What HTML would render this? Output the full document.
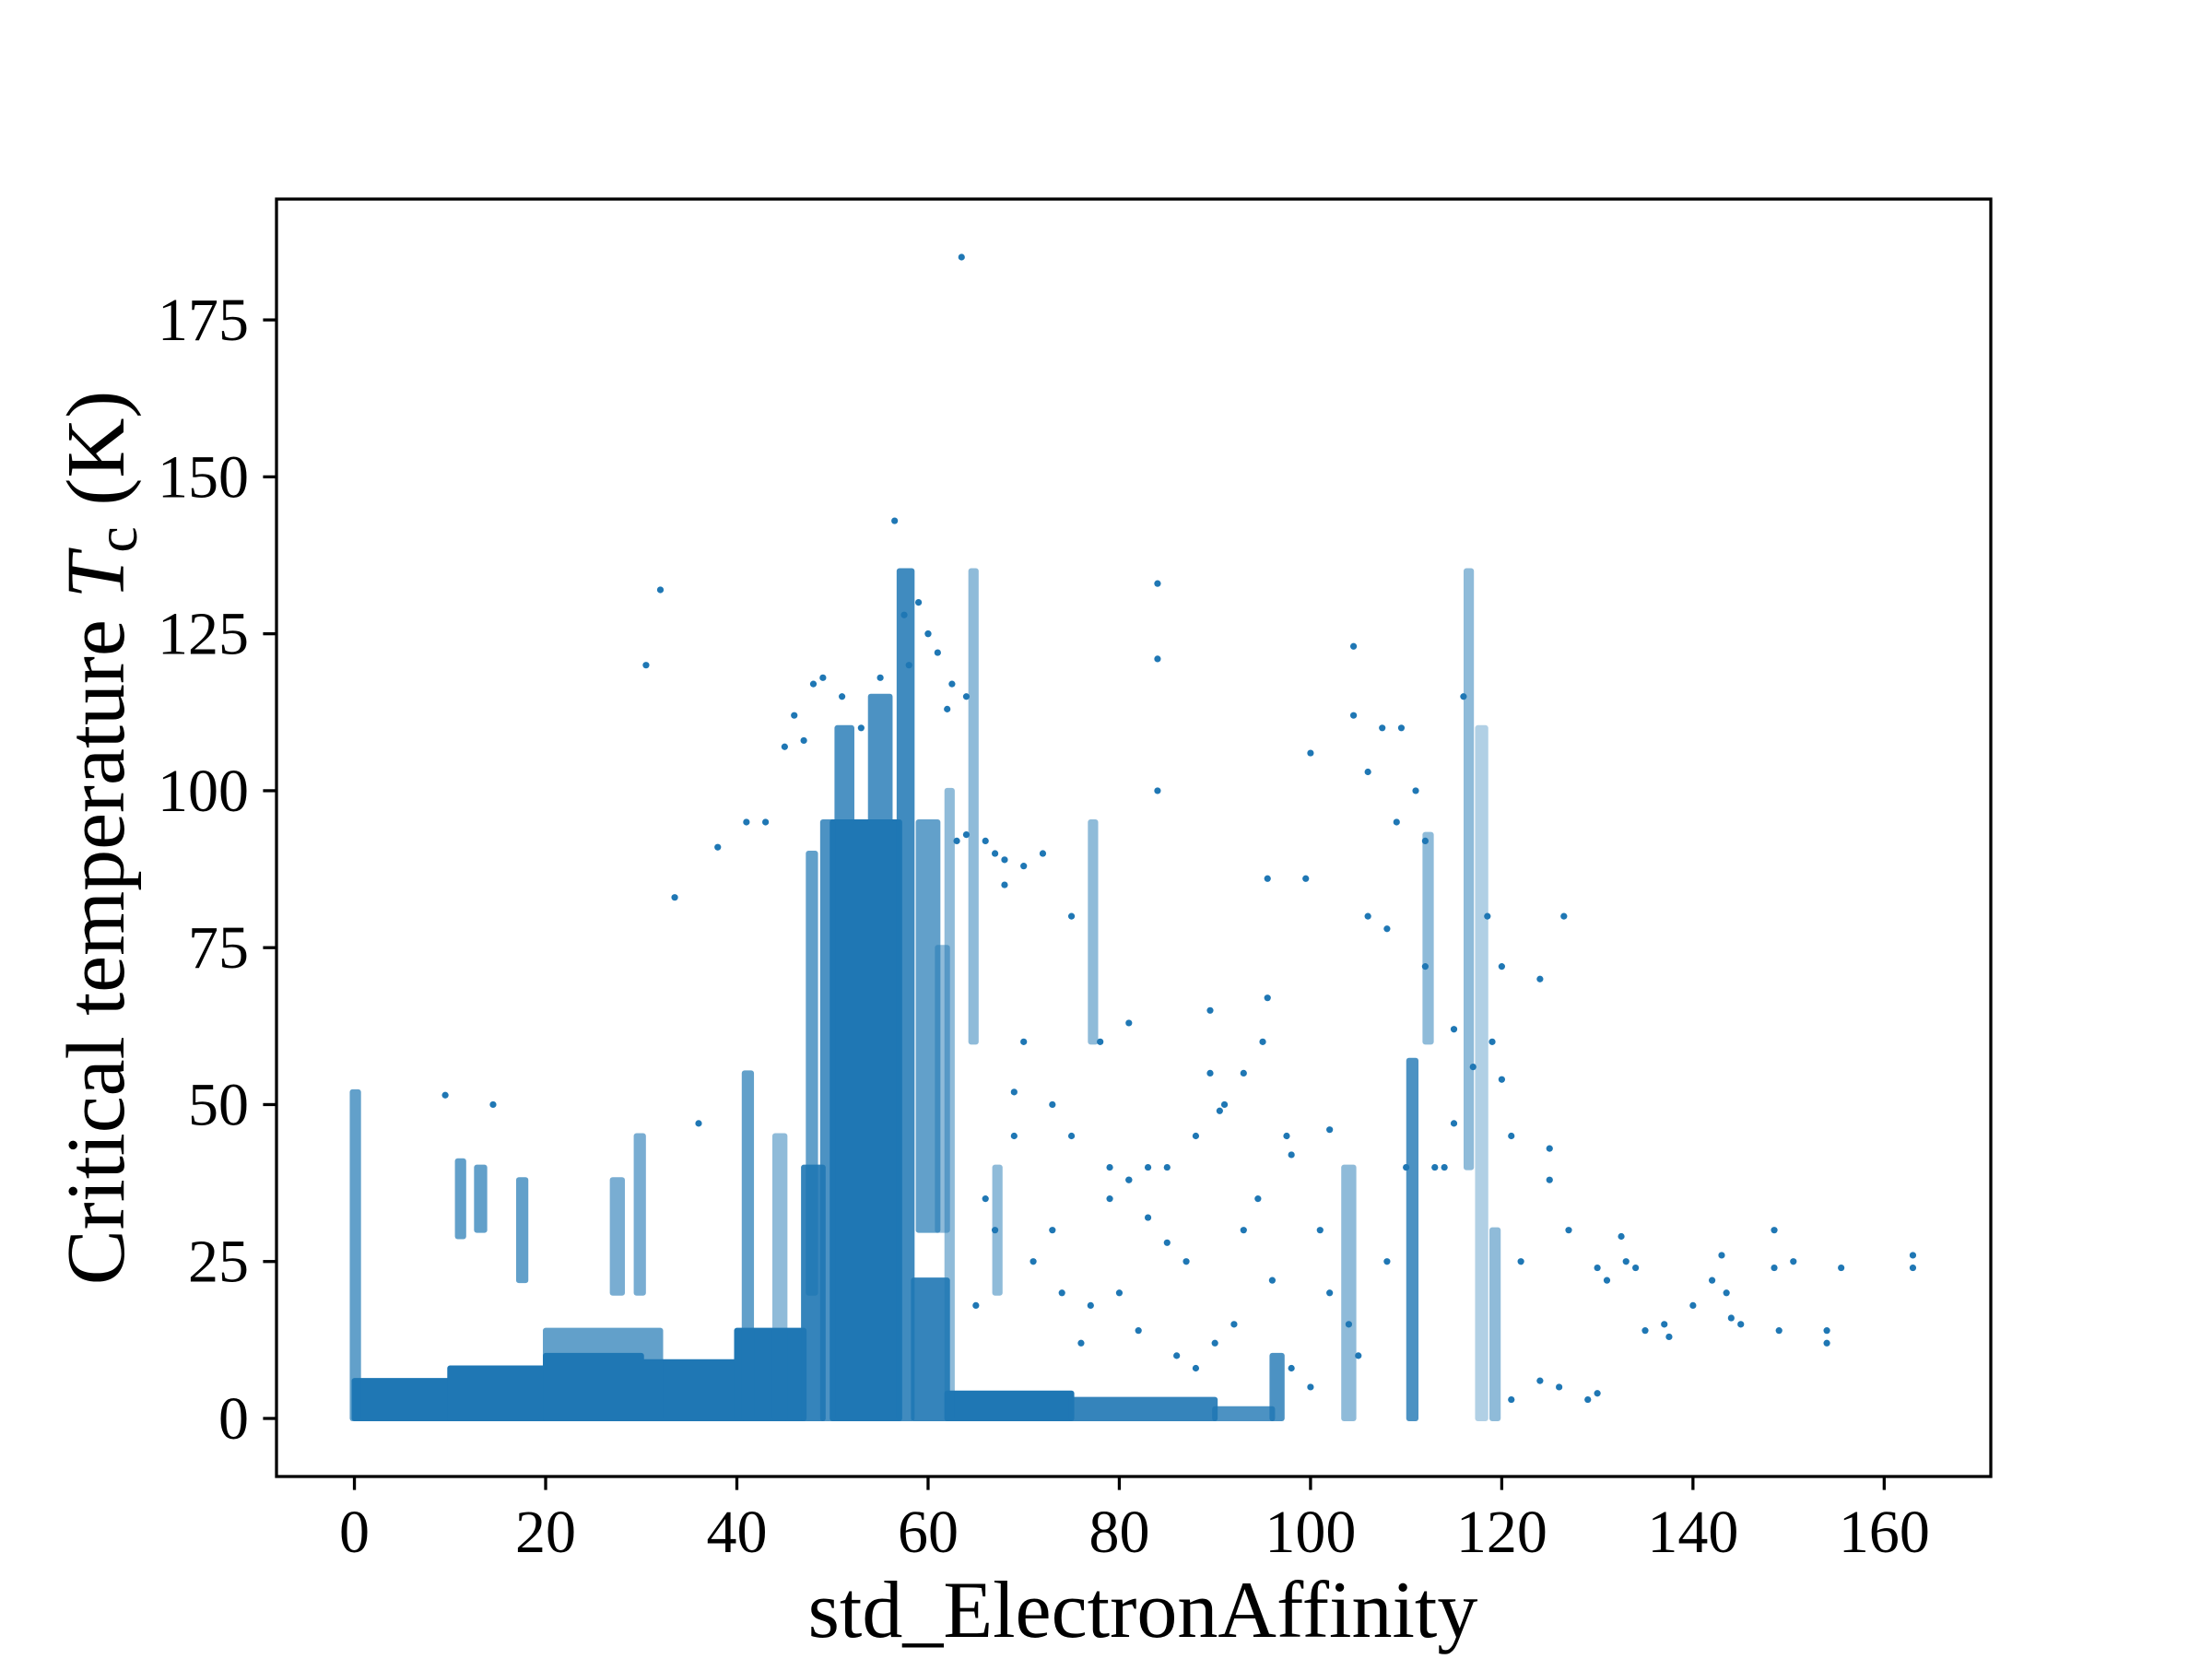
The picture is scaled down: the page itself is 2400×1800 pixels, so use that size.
<!DOCTYPE html>
<html><head><meta charset="utf-8"><style>
html,body{margin:0;padding:0;background:#fff;}
svg text{font-family:"Liberation Serif",serif;fill:#000;}
</style></head><body>
<svg id="chart" width="2400" height="1800" viewBox="0 0 2400 1800" xmlns="http://www.w3.org/2000/svg" style="position:absolute;left:0;top:0">
<rect width="2400" height="1800" fill="#fff"/>
<g id="plot"></g>
<g id="axes"></g>
</svg>
<script>
// dense regions: x0, x1, y0, y1, density
const blockX0 = [0,10,20,30,40,47,50,50.5,54,57,58.5,59,61,62,75,90,20,-0.2,10.8,12.8,17.2,27,29.5,40.8,44,62,64.5,67,77,96,103.5,110.3,116.3,117.5,119,112,47.5,49];
const blockX1 = [10,20,30,40,47,49,57,52,56,58.3,62,61,62,75,90,96,32,0.4,11.4,13.6,17.9,28,30.2,41.5,45,62.5,65,67.5,77.5,97,104.5,111,116.8,118.3,119.6,112.6,48.2,50];
const blockY0 = [0,0,0,0,0,0,0,95,95,0,0,30,30,0,0,0,0,0,29,30,22,20,20,0,0,0,60,20,60,0,0,0,40,0,0,60,20,0];
const blockY1 = [6,8,10,9,14,40,95,110,115,135,22,95,75,4,3,1.5,14,52,41,40,38,38,45,55,45,100,135,40,95,10,40,57,135,110,30,93,90,95];
const blockDensity = [1,1,1,1,1,0.9,1,0.8,0.8,0.85,0.9,0.7,0.5,1,0.9,0.8,0.7,0.7,0.7,0.7,0.7,0.6,0.6,0.7,0.5,0.5,0.5,0.5,0.5,0.8,0.5,0.8,0.5,0.35,0.5,0.5,0.7,0.8];
// sparse points
const ptX = [63.5,56.5,32,30.5,38,33.5,9.5,14.5,84,84,84,100,99.5,104.5,104.5,109.5,107.5,116,118.5,124,126.5,120,120,115,110,108,112,112,106,95.5,95.5,97.5,98,89.5,89.5,90.5,93,94.5,96,102,101,102,104,105,108,125,125,130,131,132.5,134,137,137.5,143,143.5,144,148.5,148.5,149,150.5,154,154,155.5,163,163,130,129,126,124,121,92,90,88,86,82,80,77,76,74,73,71,69,67,66,65,69,70,73,75,79,81,83,85,87,55,53,51,49,45,43,41,36,47,46,48,60,61,64,66,67,68,70,57.5,58,59,60,62,62.5,64,63,68,72,75,78,81,115,117,114,113,111,109,106,119,121,122,100,98,95,93,91,88,85,83,81,79,127,133,135,140,142,145];
const ptY = [185,143,132,120,91,83,51.5,50,133,121,100,106,86,123,112,110,110,115,80,70,80,72,54,47,40,78,92,72,103,86,67,45,42,65,55,49,30,35,22,46,30,20,15,10,25,43,38,24,22,29,24,15,13,26,20,16,30,24,14,25,14,12,24,26,24,4,3,5,6,3,15,12,8,10,14,20,18,12,20,30,25,45,30,35,18,52,60,50,45,40,38,32,28,25,118,110,115,118,107,95,95,47,108,112,117,125,122,115,92,90,89,88,128,120,130,125,113,117,93,92,85,90,80,60,63,62,56,40,40,100,95,80,60,45,25,5,8,60,55,50,45,40,40,38,35,30,25,14,18,22,15,10,8,12];
const xTicks = [0,20,40,60,80,100,120,140,160];
const yTicks = [0,25,50,75,100,125,150,175];
const xTickLabels = ["0","20","40","60","80","100","120","140","160"];
const yTickLabels = ["0","25","50","75","100","125","150","175"];

const L=300,R=2160,T=216,B=1602;
const xMin=-8.15,xMax=171.15,yMin=-9.25,yMax=194.25;
const sx=v=>L+(v-xMin)/(xMax-xMin)*(R-L);
const sy=v=>B-(v-yMin)/(yMax-yMin)*(B-T);
const NS="http://www.w3.org/2000/svg";
const plot=document.getElementById('plot'), axes=document.getElementById('axes');
const C="#1f77b4";
function mk(tag,attrs,parent){const e=document.createElementNS(NS,tag);for(const k in attrs)e.setAttribute(k,attrs[k]);parent.appendChild(e);return e;}

for(let i=0;i<blockX0.length;i++){
  const r=mk('rect',{x:sx(blockX0[i])-3,y:sy(blockY1[i])-3,width:sx(blockX1[i])-sx(blockX0[i])+6,height:sy(blockY0[i])-sy(blockY1[i])+6,rx:3,fill:C,'fill-opacity':blockDensity[i]},plot);
  
  
}
for(let i=0;i<ptX.length;i++){
  const c=mk('circle',{cx:sx(ptX[i]),cy:sy(ptY[i]),r:3.6,fill:C},plot);
  
  
}
const fr=mk('rect',{x:L,y:T,width:R-L,height:B-T,fill:'none',stroke:'#000','stroke-width':3.3},axes);


xTicks.forEach((v,i)=>{
  const x=sx(v);
  const t=mk('line',{x1:x,x2:x,y1:B,y2:B+14.6,stroke:'#000','stroke-width':3.3},axes);
  
  
  const tx=mk('text',{x:x,y:B+82,'font-size':66,'text-anchor':'middle'},axes);
  tx.textContent=xTickLabels[i];
  
  
});
yTicks.forEach((v,i)=>{
  const y=sy(v);
  const t=mk('line',{x1:L,x2:L-14.6,y1:y,y2:y,stroke:'#000','stroke-width':3.3},axes);
  
  
  const tx=mk('text',{x:L-30,y:y+22,'font-size':66,'text-anchor':'end'},axes);
  tx.textContent=yTickLabels[i];
  
  
});
</script>
<svg style="position:absolute;left:0;top:0" width="2400" height="1800">
<text x="1240" y="1776" font-size="88" text-anchor="middle" style="font-family:'Liberation Serif',serif">std_ElectronAffinity</text>
<text transform="translate(134,909) rotate(-90)" font-size="90" text-anchor="middle" style="font-family:'Liberation Serif',serif">Critical temperature <tspan font-style="italic">T</tspan><tspan font-size="64" dy="14">c</tspan><tspan dy="-14"> (K)</tspan></text>
</svg>
</body></html>
